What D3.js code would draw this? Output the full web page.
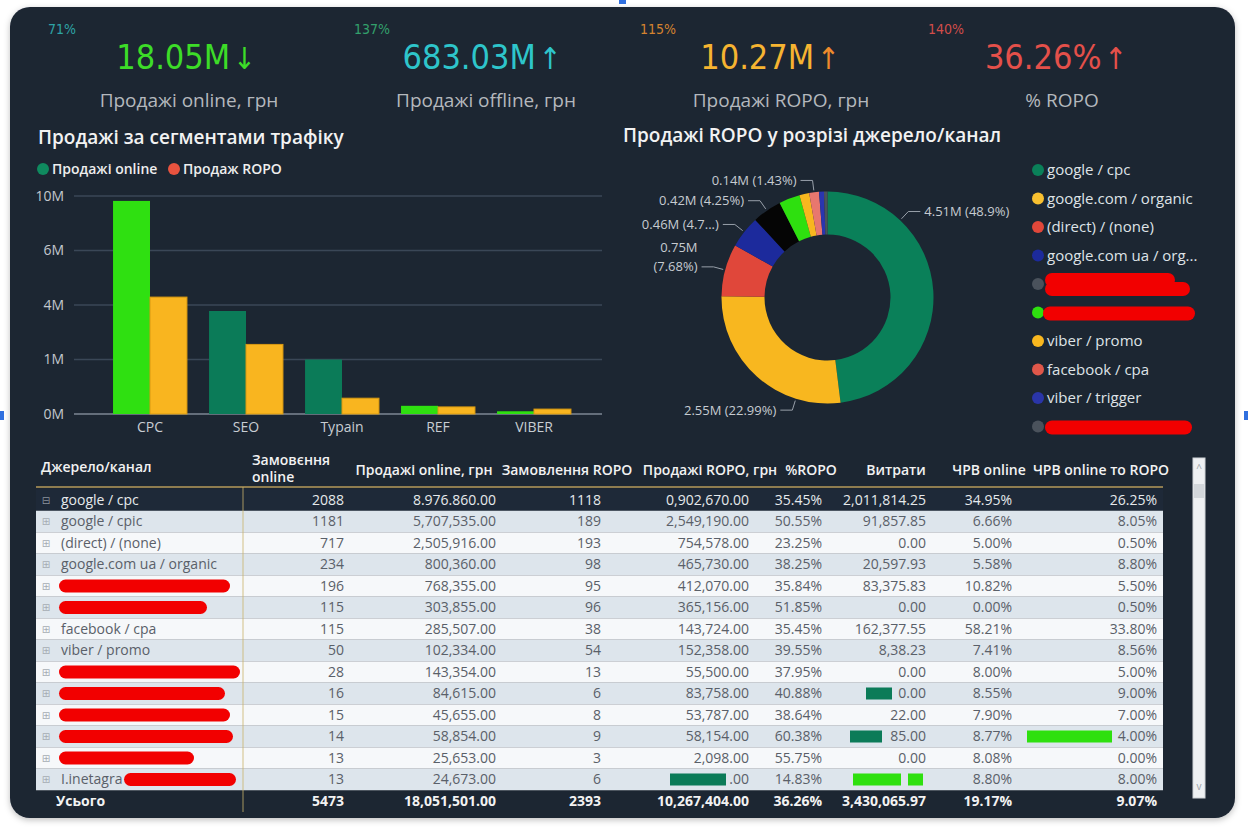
<!DOCTYPE html>
<html lang="uk">
<head>
  <meta charset="UTF-8">
  <title>Продажі ROPO</title>
  <script src="https://cdn.jsdelivr.net/npm/d3@7"></script>
  <style>
    body { margin: 0; background: #fff; }
    svg { display: block; }
  </style>
</head>
<body>
  <svg width="1248" height="832"></svg>
  <script>
    // ---- KPI cards
    var kpiPct = ['71%', '137%', '115%', '140%'];
    var kpiValues = ['18.05M', '683.03M', '10.27M', '36.26%'];
    var kpiArrows = ['↓', '↑', '↑', '↑'];
    var kpiLabels = ['Продажі online, грн', 'Продажі offline, грн', 'Продажі ROPO, грн', '% ROPO'];

    // ---- bar chart: sales by traffic segment
    var segments = ['CPC', 'SEO', 'Typain', 'REF', 'VIBER'];
    var segOnline = [9.64e6, 3.67e6, 1.0e6, 0.15e6, 0.05e6];
    var segRopo = [4.29e6, 1.83e6, 0.29e6, 0.13e6, 0.09e6];
    var yTicks = [0, 1e6, 4e6, 6e6, 10e6];

    // ---- donut: ROPO sales by source / medium (M)
    var pieSources = ['google / cpc', 'google.com / organic', '(direct) / (none)', 'google.com ua / org...',
      null, null, 'viber / promo', 'facebook / cpa', 'viber / trigger', null];
    var pieValues = [4.51, 2.55, 0.75, 0.46, 0.42, 0.30, 0.14, 0.14, 0.07, 0.05];
    var pieLabels = [['4.51M (48.9%)'], ['2.55M (22.99%)'], ['0.75M', '(7.68%)'], ['0.46M (4.7...)'],
      ['0.42M (4.25%)'], null, null, ['0.14M (1.43%)'], null, null];

    // ---- table
    var tableSources = ['google / cpc', 'google / cpic', '(direct) / (none)', 'google.com ua / organic', null, null,
      'facebook / cpa', 'viber / promo', null, null, null, null, null, 'I.inetagra'];
    var ordersOnline = ['2088', '1181', '717', '234', '196', '115', '115', '50', '28', '16', '15', '14', '13', '13'];
    var salesOnline = ['8.976.860.00', '5,707,535.00', '2,505,916.00', '800,360.00', '768,355.00', '303,855.00',
      '285,507.00', '102,334.00', '143,354.00', '84,615.00', '45,655.00', '58,854.00', '25,653.00', '24,673.00'];
    var ordersRopo = ['1118', '189', '193', '98', '95', '96', '38', '54', '13', '6', '8', '9', '3', '6'];
    var salesRopo = ['0,902,670.00', '2,549,190.00', '754,578.00', '465,730.00', '412,070.00', '365,156.00',
      '143,724.00', '152,358.00', '55,500.00', '83,758.00', '53,787.00', '58,154.00', '2,098.00', '.00'];
    var pctRopo = ['35.45%', '50.55%', '23.25%', '38.25%', '35.84%', '51.85%', '35.45%', '39.55%', '37.95%',
      '40.88%', '38.64%', '60.38%', '55.75%', '14.83%'];
    var costs = ['2,011,814.25', '91,857.85', '0.00', '20,597.93', '83,375.83', '0.00', '162,377.55', '8,38.23',
      '0.00', '0.00', '22.00', '85.00', '0.00', ''];
    var cvrOnline = ['34.95%', '6.66%', '5.00%', '5.58%', '10.82%', '0.00%', '58.21%', '7.41%', '8.00%', '8.55%',
      '7.90%', '8.77%', '8.08%', '8.80%'];
    var cvrRopo = ['26.25%', '8.05%', '0.50%', '8.80%', '5.50%', '0.50%', '33.80%', '8.56%', '5.00%', '9.00%',
      '7.00%', '4.00%', '0.00%', '8.00%'];
    var totals = ['5473', '18,051,501.00', '2393', '10,267,404.00', '36.26%', '3,430,065.97', '19.17%', '9.07%'];

    var FONT = "'Open Sans', 'Noto Sans', sans-serif";
    var NUMFONT = "'DejaVu Sans Condensed', 'DejaVu Sans', sans-serif";
    var CARD = '#1b2533';

    var svg = d3.select('svg');
    var defs = svg.append('defs');
    var flt = defs.append('filter').attr('id', 'shadow')
      .attr('x', '-3%').attr('y', '-3%').attr('width', '106%').attr('height', '106%');
    flt.append('feDropShadow').attr('dx', 0).attr('dy', 2).attr('stdDeviation', 3)
      .attr('flood-color', '#000').attr('flood-opacity', 0.25);

    svg.append('rect').attr('width', 1248).attr('height', 832).attr('fill', '#ffffff');
    svg.append('rect').attr('x', 10).attr('y', 7).attr('width', 1225).attr('height', 811).attr('rx', 20)
      .attr('fill', CARD).attr('filter', 'url(#shadow)');
    // selection handles of the visual
    svg.append('rect').attr('x', 619).attr('y', 0).attr('width', 7).attr('height', 4).attr('fill', '#2f6fdf');
    svg.append('rect').attr('x', 0).attr('y', 411).attr('width', 4).attr('height', 9).attr('fill', '#2f6fdf');
    svg.append('rect').attr('x', 1244).attr('y', 411).attr('width', 4).attr('height', 9).attr('fill', '#2f6fdf');

    // ---------- KPI row
    var kpiCenters = [186, 482, 770, 1056];
    var kpiLabelCenters = [189, 486, 781, 1062];
    var kpiPctX = [48, 354, 640, 928];
    var kpiColors = ['#3ddc28', '#2ec5cb', '#f6b431', '#e4504a'];
    var kpiArrowColors = ['#3ddc28', '#2ec5cb', '#ee8a2c', '#e4504a'];
    var kpiPctColors = ['#2ea3a6', '#33a06c', '#d4832f', '#d24d4a'];

    var kpi = svg.selectAll('.kpi').data(kpiValues).enter().append('g').attr('class', 'kpi');
    kpi.append('text')
      .attr('x', function(d, i) { return kpiPctX[i]; })
      .attr('y', 34)
      .attr('font-family', NUMFONT).attr('font-stretch', 'condensed').attr('font-size', 14)
      .attr('fill', function(d, i) { return kpiPctColors[i]; })
      .text(function(d, i) { return kpiPct[i]; });
    var val = kpi.append('text')
      .attr('x', function(d, i) { return kpiCenters[i]; })
      .attr('y', 69)
      .attr('text-anchor', 'middle')
      .attr('font-family', NUMFONT).attr('font-stretch', 'condensed').attr('font-size', 34)
      .attr('fill', function(d, i) { return kpiColors[i]; });
    val.append('tspan').text(function(d) { return d; });
    val.append('tspan').attr('dx', 3).attr('font-size', 30)
      .attr('fill', function(d, i) { return kpiArrowColors[i]; })
      .text(function(d, i) { return kpiArrows[i]; });
    kpi.append('text')
      .attr('x', function(d, i) { return kpiLabelCenters[i]; })
      .attr('y', 107)
      .attr('text-anchor', 'middle')
      .attr('font-family', FONT).attr('font-size', 19)
      .attr('fill', '#b4b8bd')
      .text(function(d, i) { return kpiLabels[i]; });

    // ---------- titles
    svg.append('text').attr('x', 38).attr('y', 144)
      .attr('font-family', FONT).attr('font-weight', 600).attr('font-size', 19).attr('fill', '#f2f2f2')
      .text('Продажі за сегментами трафіку');
    svg.append('text').attr('x', 623).attr('y', 142)
      .attr('font-family', FONT).attr('font-weight', 600).attr('font-size', 19).attr('fill', '#f2f2f2')
      .text('Продажі ROPO у розрізі джерело/канал');

    // ---------- bar chart
    var barLegend = [['Продажі online', '#0f8a5f', 43], ['Продаж ROPO', '#e8533f', 174]];
    var bl = svg.selectAll('.bl').data(barLegend).enter().append('g');
    bl.append('circle').attr('cx', function(d) { return d[2]; }).attr('cy', 169).attr('r', 6)
      .attr('fill', function(d) { return d[1]; });
    bl.append('text').attr('x', function(d) { return d[2] + 9; }).attr('y', 169).attr('dy', '0.35em')
      .attr('font-family', FONT).attr('font-weight', 600).attr('font-size', 14).attr('fill', '#eeeeee')
      .text(function(d) { return d[0]; });

    var x0 = d3.scaleBand().domain(segments).range([102, 582]).paddingInner(0.23).paddingOuter(0.115);
    var x1 = d3.scaleBand().domain(['online', 'ropo']).range([0, x0.bandwidth()]);
    var y = d3.scaleLinear().domain(yTicks).range([414, 359.5, 305, 250.5, 196]);
    var onlineColors = ['#2fe011', '#0b7b58', '#0b7b58', '#2fe011', '#2fe011'];

    var bar = svg.append('g');
    bar.selectAll('.grid').data(yTicks).enter().append('line')
      .attr('x1', 74).attr('x2', 602)
      .attr('y1', function(d) { return y(d); }).attr('y2', function(d) { return y(d); })
      .attr('stroke', function(d) { return d === 0 ? '#7c8794' : '#3a4757'; })
      .attr('stroke-width', 1.5);

    var yAxis = bar.append('g').attr('transform', 'translate(64,0)')
      .call(d3.axisLeft(y).tickValues(yTicks).tickFormat(function(d) { return d / 1e6 + 'M'; })
        .tickSize(0).tickPadding(0));
    yAxis.select('.domain').remove();
    yAxis.attr('font-family', FONT).attr('font-size', 14).attr('color', '#c3c8ce');

    var xAxis = bar.append('g').attr('transform', 'translate(0,' + y(0) + ')')
      .call(d3.axisBottom(x0).tickSize(0).tickPadding(8));
    xAxis.select('.domain').remove();
    xAxis.attr('font-family', FONT).attr('font-size', 14).attr('color', '#c8cdd3');

    var groups = bar.selectAll('.seg').data(segments).enter().append('g')
      .attr('transform', function(d) { return 'translate(' + x0(d) + ',0)'; });
    groups.append('rect')
      .attr('x', x1('online')).attr('width', x1.bandwidth())
      .attr('y', function(d, i) { return y(segOnline[i]); })
      .attr('height', function(d, i) { return y(0) - y(segOnline[i]); })
      .attr('fill', function(d, i) { return onlineColors[i]; });
    groups.append('rect')
      .attr('x', x1('ropo')).attr('width', x1.bandwidth())
      .attr('y', function(d, i) { return y(segRopo[i]); })
      .attr('height', function(d, i) { return y(0) - y(segRopo[i]); })
      .attr('fill', '#f9b51f').attr('stroke', '#d99a12').attr('stroke-width', 1);

    // ---------- donut
    var pieColors = ['#0a8059', '#f8b71f', '#e0473a', '#1c2a9c', '#050505', '#2ee00f', '#f8b71f', '#e8776e',
      '#2a35b0', '#4a525c'];
    var legendColors = ['#0a8059', '#f8c030', '#e0473a', '#1c2a9c', '#4a525c', '#2ee00f', '#f8b71f', '#e0574a',
      '#2a35a8', '#4a525c'];
    var cx = 827.5, cy = 297.5, rOut = 106, rIn = 63;

    var pie = d3.pie().sort(null).value(function(d) { return d; })(pieValues);
    var arc = d3.arc().innerRadius(rIn).outerRadius(rOut);
    var donut = svg.append('g').attr('transform', 'translate(' + cx + ',' + cy + ')');
    donut.selectAll('path').data(pie).enter().append('path')
      .attr('d', arc)
      .attr('fill', function(d, i) { return pieColors[i]; });

    function anchorAngle(d) {
      var span = d.endAngle - d.startAngle;
      return d.startAngle + span * (span > Math.PI / 3 ? 0.25 : 0.5);
    }
    var labelled = pie.filter(function(d, i) { return pieLabels[i]; });
    var lab = donut.selectAll('.lab').data(labelled).enter().append('g');
    lab.each(function(d) {
      var g = d3.select(this);
      var lines = pieLabels[d.index];
      var a = anchorAngle(d);
      var p0 = [Math.sin(a) * (rOut + 2), -Math.cos(a) * (rOut + 2)];
      var p1 = [Math.sin(a) * (rOut + 12), -Math.cos(a) * (rOut + 12)];
      var side = Math.sin(a) >= 0 ? 1 : -1;
      var p2 = [p1[0] + side * 12, p1[1]];
      g.append('polyline').attr('points', [p0, p1, p2].join(' '))
        .attr('fill', 'none').attr('stroke', '#98a0aa').attr('stroke-width', 1);
      g.selectAll('text').data(lines).enter().append('text')
        .attr('x', p2[0] + side * 4)
        .attr('y', function(t, k) { return p2[1] - (lines.length - 1 - k) * 19; })
        .attr('dy', '0.35em')
        .attr('text-anchor', side > 0 ? 'start' : 'end')
        .attr('font-family', FONT).attr('font-size', 13).attr('fill', '#c6cbd1')
        .text(function(t) { return t; });
    });

    // legend, some entries masked out in the source image
    var legendRedact = { 4: [[1045, 1175, -4], [1045, 1190, 5]], 5: [[1043, 1195, 1]], 9: [[1045, 1192, 1]] };
    var lg = svg.selectAll('.lg').data(pieSources).enter().append('g')
      .attr('transform', function(d, i) { return 'translate(0,' + (170 + i * 28.5) + ')'; });
    lg.append('circle').attr('cx', 1038).attr('cy', 0).attr('r', 6)
      .attr('fill', function(d, i) { return legendColors[i]; });
    lg.filter(function(d) { return d; }).append('text')
      .attr('x', 1047).attr('dy', '0.35em')
      .attr('font-family', FONT).attr('font-size', 15).attr('fill', '#dfe3e7')
      .text(function(d) { return d; });
    lg.each(function(d, i) {
      (legendRedact[i] || []).forEach(function(r) {
        d3.select(this).append('rect').attr('x', r[0]).attr('y', r[2] - 7).attr('width', r[1] - r[0])
          .attr('height', 14).attr('rx', 7).attr('fill', '#f20000');
      }, this);
    });

    // ---------- table
    var rowY0 = 500, rowH = 21.5, tX0 = 36, tX1 = 1163;
    var colRight = [344, 496, 601, 749, 822, 926, 1012, 1157];
    var columns = [ordersOnline, salesOnline, ordersRopo, salesRopo, pctRopo, costs, cvrOnline, cvrRopo];
    var headers = [
      { lines: ['Джерело/канал'], x: 41, anchor: 'start', y: 467 },
      { lines: ['Замовєння', 'online'], x: 252, anchor: 'start', y: 460 },
      { lines: ['Продажі online, грн'], x: 424, anchor: 'middle', y: 470 },
      { lines: ['Замовлення ROPO'], x: 567, anchor: 'middle', y: 470 },
      { lines: ['Продажі ROPO, грн'], x: 710, anchor: 'middle', y: 470 },
      { lines: ['%ROPO'], x: 811, anchor: 'middle', y: 470 },
      { lines: ['Витрати'], x: 896, anchor: 'middle', y: 470 },
      { lines: ['ЧРВ online'], x: 989, anchor: 'middle', y: 470 },
      { lines: ['ЧРВ online то ROPO'], x: 1101, anchor: 'middle', y: 470 }
    ];
    var nameRedact = [null, null, null, null, [59, 230], [59, 207], null, null, [59, 240], [59, 225], [59, 230],
      [59, 233], [59, 194], [124, 236]];
    // conditional-format bars left in some cells: [row, x0, x1, colour]
    var cellBars = [[9, 866, 892, '#0b7b58'], [11, 850, 882, '#0b7b58'], [11, 1027, 1112, '#2ee00f'],
      [13, 670, 726, '#0b7b58'], [13, 853, 901, '#2ee00f'], [13, 908, 923, '#2ee00f']];

    var table = svg.append('g');
    var hd = table.selectAll('.hd').data(headers).enter().append('text')
      .attr('x', function(d) { return d.x; })
      .attr('y', function(d) { return d.y; })
      .attr('text-anchor', function(d) { return d.anchor; })
      .attr('font-family', FONT).attr('font-weight', 600).attr('font-size', 14).attr('fill', '#f2f2f2');
    hd.selectAll('tspan').data(function(d) { return d.lines; }).enter().append('tspan')
      .attr('x', function() { return d3.select(this.parentNode).attr('x'); })
      .attr('dy', function(t, k) { return k === 0 ? '0.35em' : 17; })
      .text(function(t) { return t; });

    var rows = table.selectAll('.row').data(tableSources).enter().append('g')
      .attr('transform', function(d, i) { return 'translate(0,' + (rowY0 + i * rowH) + ')'; });
    rows.append('rect').attr('x', tX0).attr('y', -rowH / 2).attr('width', tX1 - tX0).attr('height', rowH)
      .attr('fill', function(d, i) { return i === 0 ? '#1e2938' : (i % 2 ? '#dde5ec' : '#f6f8fa'); });
    rows.append('text').attr('x', 46).attr('dy', '0.35em').attr('text-anchor', 'middle')
      .attr('font-family', 'DejaVu Sans').attr('font-size', 10)
      .attr('fill', function(d, i) { return i === 0 ? '#8a929c' : '#a6adb4'; })
      .text(function(d, i) { return i === 0 ? '⊟' : '⊞'; });
    rows.filter(function(d) { return d; }).append('text')
      .attr('x', 61).attr('dy', '0.35em')
      .attr('font-family', FONT).attr('font-size', 14)
      .attr('fill', function(d) { return d === tableSources[0] ? '#e6e9ec' : '#5a6069'; })
      .text(function(d) { return d; });
    rows.each(function(d, i) {
      var g = d3.select(this);
      columns.forEach(function(col, c) {
        g.append('text').attr('x', colRight[c]).attr('dy', '0.35em').attr('text-anchor', 'end')
          .attr('font-family', FONT).attr('font-size', 14)
          .attr('fill', i === 0 ? '#e6e9ec' : '#5a6069')
          .text(col[i]);
      });
      if (nameRedact[i]) {
        g.append('rect').attr('x', nameRedact[i][0]).attr('y', -6.5)
          .attr('width', nameRedact[i][1] - nameRedact[i][0]).attr('height', 13).attr('rx', 6.5)
          .attr('fill', '#f20000');
      }
      cellBars.filter(function(b) { return b[0] === i; }).forEach(function(b) {
        g.append('rect').attr('x', b[1]).attr('y', -6).attr('width', b[2] - b[1]).attr('height', 12)
          .attr('fill', b[3]);
      });
    });

    // totals
    var totY = rowY0 + tableSources.length * rowH;
    var tot = table.append('g').attr('transform', 'translate(0,' + totY + ')');
    tot.append('text').attr('x', 56).attr('dy', '0.35em')
      .attr('font-family', FONT).attr('font-weight', 700).attr('font-size', 14).attr('fill', '#f2f2f2')
      .text('Усього');
    tot.selectAll('.tv').data(totals).enter().append('text')
      .attr('x', function(d, i) { return colRight[i]; }).attr('dy', '0.35em').attr('text-anchor', 'end')
      .attr('font-family', FONT).attr('font-weight', 700).attr('font-size', 14).attr('fill', '#f2f2f2')
      .text(function(d) { return d; });

    // header rule and first-column separator
    table.append('line').attr('x1', tX0).attr('x2', tX1).attr('y1', 487).attr('y2', 487)
      .attr('stroke', '#b59a5a').attr('stroke-width', 1.5);
    table.append('line').attr('x1', 243).attr('x2', 243).attr('y1', 487).attr('y2', totY + 11)
      .attr('stroke', '#c9b26a').attr('stroke-width', 1).attr('opacity', 0.8);

    // scrollbar
    table.append('rect').attr('x', 1193).attr('y', 458).attr('width', 12).attr('height', 340)
      .attr('fill', '#eef0f2').attr('stroke', '#cfd3d7');
    table.append('rect').attr('x', 1194).attr('y', 484).attr('width', 10).attr('height', 14).attr('fill', '#d3d7db');
    table.append('text').attr('x', 1199).attr('y', 472).attr('text-anchor', 'middle')
      .attr('font-family', FONT).attr('font-size', 10).attr('fill', '#9aa0a6').text('^');
    table.append('text').attr('x', 1199).attr('y', 790).attr('text-anchor', 'middle')
      .attr('font-family', FONT).attr('font-size', 10).attr('fill', '#9aa0a6').text('v');
  </script>
</body>
</html>
